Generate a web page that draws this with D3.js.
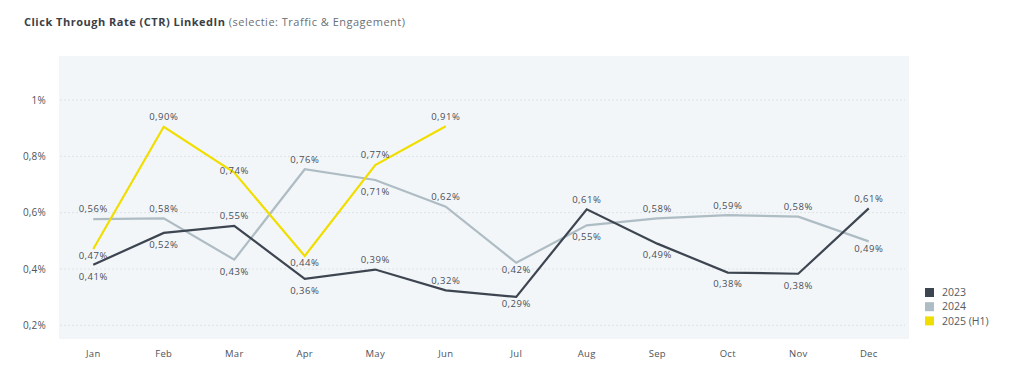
<!DOCTYPE html>
<html><head><meta charset="utf-8">
<script src="https://cdn.jsdelivr.net/npm/d3@7"></script>
<style>body{margin:0;background:#fff}svg{display:block}</style>
</head><body>
<svg id="c" width="1024" height="377"></svg>
<script>
const months = ["Jan","Feb","Mar","Apr","May","Jun","Jul","Aug","Sep","Oct","Nov","Dec"];
const yTicks = [0.2, 0.4, 0.6, 0.8, 1.0];
const yTickLabels = ["0,2%","0,4%","0,6%","0,8%","1%"];
const seriesNames = ["2023","2024","2025 (H1)"];
const values2023 = [0.415,0.528,0.553,0.365,0.398,0.324,0.301,0.612,0.49,0.387,0.383,0.615];
const values2024 = [0.577,0.58,0.433,0.754,0.716,0.621,0.422,0.555,0.58,0.591,0.586,0.498];
const values2025 = [0.471,0.905,0.742,0.446,0.769,0.907];
const labels2023 = ["0,41%","0,52%","0,55%","0,36%","0,39%","0,32%","0,29%","0,61%","0,49%","0,38%","0,38%","0,61%"];
const labels2024 = ["0,56%","0,58%","0,43%","0,76%","0,71%","0,62%","0,42%","0,55%","0,58%","0,59%","0,58%","0,49%"];
const labels2025 = ["0,47%","0,90%","0,74%","0,44%","0,77%","0,91%"];
const place2023 = ["b","b","a","b","a","a","n","a","b","b","b","a"];
const place2024 = ["a","a","b","a","b","a","n","b","a","a","a","n"];
const place2025 = ["n","a","m","n","a","a"];

const colors = ["#3d4550","#aebcc4","#f0de00"];
const svg = d3.select("#c");
const font = "'Open Sans', sans-serif";

// title
const t = svg.append("text").attr("x",24).attr("y",26).attr("font-family",font).attr("font-size",11).attr("letter-spacing",0.5);
t.append("tspan").attr("font-weight",700).attr("fill","#3b4047").text("Click Through Rate (CTR) LinkedIn");
t.append("tspan").attr("fill","#6a6f75").text(" (selectie: Traffic & Engagement)");

const x = d3.scaleBand().domain(months).range([58,904]);
const cx = m => x(m) + x.bandwidth()/2;
const y = d3.scaleLinear().domain([0.2,1.0]).range([325.3,100]);

// panel
svg.append("rect").attr("x",59).attr("y",56).attr("width",850).attr("height",283).attr("fill","#f3f6f9");

// grid
svg.append("g").selectAll("line").data(yTicks).join("line")
  .attr("x1",60).attr("x2",905).attr("y1",d=>y(d)).attr("y2",d=>y(d))
  .attr("stroke","#dde2e7").attr("stroke-width",1).attr("stroke-dasharray","2,2");

// y axis
const ya = svg.append("g").attr("transform","translate(46,0)")
  .call(d3.axisLeft(y).tickValues(yTicks).tickSize(0).tickPadding(0).tickFormat((d,i)=>yTickLabels[i]));
ya.select(".domain").remove();
ya.selectAll("text").attr("font-family",font).attr("font-size",10).attr("letter-spacing",0.2).attr("fill","#4e535a");

// x axis
const xa = svg.append("g").attr("transform","translate(0,350)")
  .call(d3.axisBottom(x).tickSize(0).tickPadding(0));
xa.select(".domain").remove();
xa.selectAll("text").attr("font-family",font).attr("font-size",9.5).attr("letter-spacing",0.3).attr("fill","#4e535a").attr("dy","0.71em");

const series = [
  {vals: values2023, labs: labels2023, pl: place2023, c: colors[0]},
  {vals: values2024, labs: labels2024, pl: place2024, c: colors[1]},
  {vals: values2025, labs: labels2025, pl: place2025, c: colors[2]}
];
const line = d3.line().x((d,i)=>cx(months[i])).y(d=>y(d));
[1,0,2].forEach(k=>{
  const s = series[k];
  svg.append("path").datum(s.vals).attr("d",line).attr("fill","none")
    .attr("stroke",s.c).attr("stroke-width",2.2).attr("stroke-linejoin","miter");
});
const off = {a:-10, b:11.5, n:7, m:-2};
series.forEach(s=>{
  svg.append("g").selectAll("text").data(s.vals).join("text")
    .attr("x",(d,i)=>cx(months[i])).attr("y",(d,i)=>y(d)+off[s.pl[i]])
    .attr("dy","0.35em").attr("text-anchor","middle")
    .attr("font-family",font).attr("font-size",9.5).attr("letter-spacing",0.5).attr("fill","#4a4f57")
    .text((d,i)=>s.labs[i]);
});

// legend
const lg = svg.append("g").selectAll("g").data(seriesNames).join("g")
  .attr("transform",(d,i)=>`translate(925,${292.5+i*14.2})`);
lg.append("rect").attr("x",0).attr("y",-4.5).attr("width",9).attr("height",9).attr("fill",(d,i)=>colors[i]);
lg.append("text").attr("x",17).attr("dy","0.35em").attr("font-family",font).attr("font-size",10.5)
  .attr("fill","#555a60").text(d=>d);
</script>
</body></html>
